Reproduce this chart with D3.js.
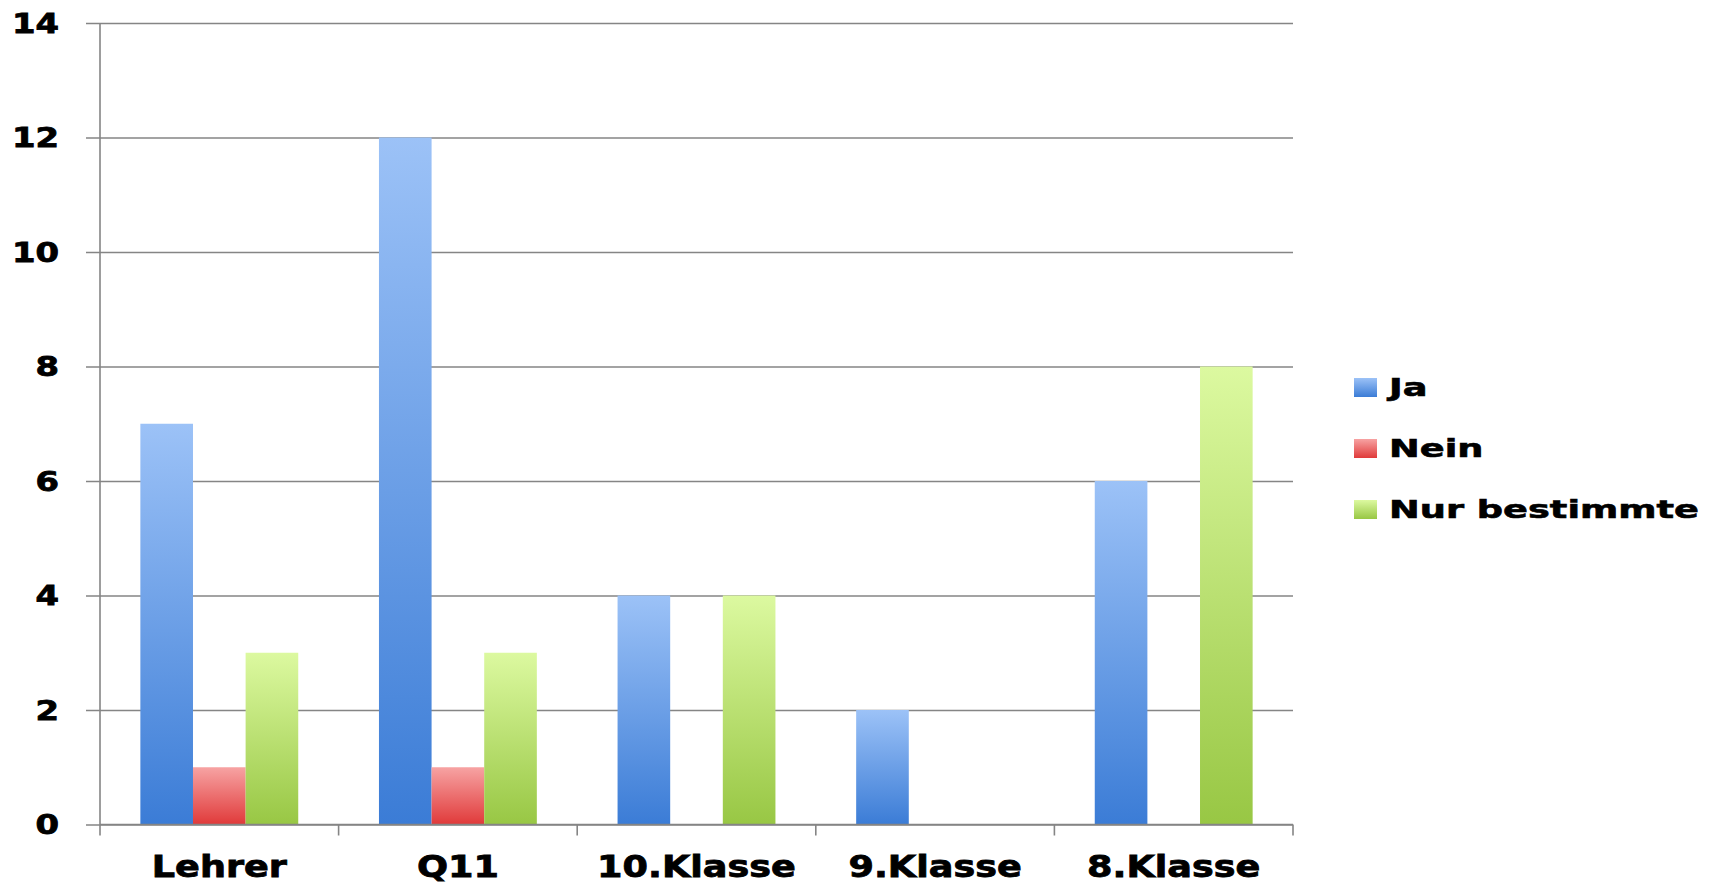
<!DOCTYPE html>
<html>
<head>
<meta charset="utf-8">
<script src="https://cdn.jsdelivr.net/npm/d3@7"></script>
<style>
  html, body { margin: 0; padding: 0; background: #ffffff; }
  svg { display: block; }
  text { font-family: "DejaVu Sans", "Liberation Sans", Arial, sans-serif; font-weight: bold; fill: #000; }
</style>
</head>
<body>
<svg id="chart" width="1711" height="885"></svg>
<script>
// ---- data ----
const categories = ["Lehrer", "Q11", "10.Klasse", "9.Klasse", "8.Klasse"];
const seriesNames = ["Ja", "Nein", "Nur bestimmte"];
const jaValues = [7, 12, 4, 2, 6];
const neinValues = [1, 1, 0, 0, 0];
const nurBestimmteValues = [3, 3, 4, 0, 8];
const yTicks = [0, 2, 4, 6, 8, 10, 12, 14];

const seriesValues = [jaValues, neinValues, nurBestimmteValues];
const gradStops = [
  ["#9cc2f7", "#3b7cd6"],
  ["#f7a3a3", "#e03a3a"],
  ["#dcf9a0", "#98c744"]
];

const svg = d3.select("#chart");
const W = 1711, H = 885;
const m = { left: 100, right: W - 1293, top: 23, bottom: H - 824.5 };

const x0 = d3.scaleBand().domain(categories).range([m.left, W - m.right]).paddingInner(0).paddingOuter(0);
const x1 = d3.scaleBand().domain(seriesNames).range([0, x0.bandwidth()]).paddingInner(0).paddingOuter(0.767);
const y = d3.scaleLinear().domain([0, 14]).range([H - m.bottom, m.top]);

// gradients
const defs = svg.append("defs");
seriesNames.forEach((s, i) => {
  const g = defs.append("linearGradient").attr("id", "grad" + i)
    .attr("x1", 0).attr("y1", 0).attr("x2", 0).attr("y2", 1);
  g.append("stop").attr("offset", "0%").attr("stop-color", gradStops[i][0]);
  g.append("stop").attr("offset", "100%").attr("stop-color", gradStops[i][1]);
});

// gridlines (with left ticks)
const yAxis = d3.axisLeft(y).tickValues(yTicks).tickSize(0).tickFormat(d3.format("d"));
const gy = svg.append("g").attr("transform", `translate(${m.left},0)`).call(yAxis);
gy.select(".domain").remove();
gy.selectAll(".tick").append("line")
  .attr("x1", -14).attr("x2", W - m.right - m.left)
  .attr("stroke", "#858585").attr("stroke-width", 1.6);
gy.selectAll(".tick text")
  .attr("x", 0).attr("dy", "0.36em")
  .attr("text-anchor", "end")
  .style("font-size", "26px")
  .attr("stroke", "#000").attr("stroke-width", 0.8)
  .attr("transform", "translate(-41,0) scale(1.3,1)");

// bars
const groups = svg.append("g").selectAll("g").data(categories).join("g")
  .attr("transform", d => `translate(${x0(d)},0)`);
groups.selectAll("rect")
  .data((d, ci) => seriesNames.map((s, si) => ({ s, si, v: seriesValues[si][ci] })))
  .join("rect")
  .filter(d => d.v > 0)
  .attr("x", d => x1(d.s))
  .attr("width", x1.bandwidth())
  .attr("y", d => y(d.v))
  .attr("height", d => y(0) - y(d.v))
  .attr("fill", d => `url(#grad${d.si})`);

// y axis line
svg.append("line")
  .attr("x1", m.left).attr("x2", m.left)
  .attr("y1", y(14)).attr("y2", y(0) + 11)
  .attr("stroke", "#858585").attr("stroke-width", 1.6);

// x axis
const xAxis = d3.axisBottom(x0).tickSize(0);
const gx = svg.append("g").attr("transform", `translate(0,${y(0)})`).call(xAxis);
gx.select(".domain").remove();
gx.selectAll(".tick text")
  .attr("y", 53).attr("dy", 0)
  .style("font-size", "30px")
  .attr("stroke", "#000").attr("stroke-width", 0.8)
  .attr("transform", "scale(1.22,1)");
// category separators
const boundaries = categories.map(c => x0(c)).concat([x0(categories[categories.length - 1]) + x0.bandwidth()]);
svg.append("g").selectAll("line").data(boundaries.slice(1)).join("line")
  .attr("x1", d => d).attr("x2", d => d)
  .attr("y1", y(0)).attr("y2", y(0) + 11)
  .attr("stroke", "#858585").attr("stroke-width", 1.6);
svg.append("line")
  .attr("x1", m.left).attr("x2", W - m.right)
  .attr("y1", y(0)).attr("y2", y(0))
  .attr("stroke", "#858585").attr("stroke-width", 1.6);

// legend
const leg = svg.append("g").attr("transform", "translate(1354,378)");
const li = leg.selectAll("g").data(seriesNames).join("g")
  .attr("transform", (d, i) => `translate(0,${i * 61})`);
li.append("rect").attr("width", 23).attr("height", 19)
  .attr("fill", (d, i) => `url(#grad${i})`);
li.append("text")
  .attr("transform", "translate(35,18) scale(1.47,1)")
  .style("font-size", "25px")
  .attr("stroke", "#000").attr("stroke-width", 0.6)
  .text(d => d);
</script>
</body>
</html>
